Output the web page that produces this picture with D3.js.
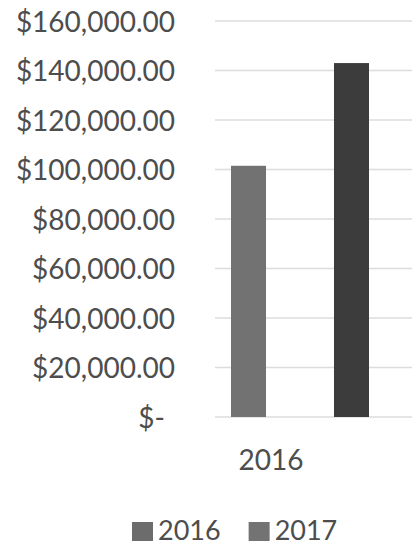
<!DOCTYPE html>
<html>
<head>
<meta charset="utf-8">
<script src="https://cdn.jsdelivr.net/npm/d3@7"></script>
<style>
  html, body { margin: 0; padding: 0; background: #fff; }
  svg { display: block; }
  text { font-family: Lato, "Open Sans", sans-serif; fill: #4d4d4d; }
</style>
</head>
<body>
<svg id="chart" width="412" height="546"></svg>
<script>
// Revenue by year
const categories = ["2016"];
const seriesNames = ["2016", "2017"];
const series2016 = [101500];
const series2017 = [143000];
const tickValues = [0, 20000, 40000, 60000, 80000, 100000, 120000, 140000, 160000];
const tickLabels = ["$-", "$20,000.00", "$40,000.00", "$60,000.00", "$80,000.00",
                    "$100,000.00", "$120,000.00", "$140,000.00", "$160,000.00"];

const colors = { "2016": "#727272", "2017": "#3c3c3c" };
const legendColors = { "2016": "#6c6c6c", "2017": "#737373" };

const svg = d3.select("#chart");
const plot = { left: 215, right: 412, top: 21, bottom: 417 };

const y = d3.scaleLinear().domain([0, 160000]).range([plot.bottom, plot.top]);
const x0 = d3.scaleBand().domain(categories).range([215, 385]);
const x1 = d3.scaleBand().domain(seriesNames).range([16, 154]).paddingInner(0.66).paddingOuter(0);

// gridlines
svg.append("g")
  .selectAll("line")
  .data(tickValues)
  .join("line")
  .attr("x1", plot.left).attr("x2", plot.right)
  .attr("y1", d => y(d)).attr("y2", d => y(d))
  .attr("stroke", "#dcdcdc").attr("stroke-width", 1.5);

// y-axis labels
const yAxis = d3.axisLeft(y)
  .tickValues(tickValues)
  .tickSize(0)
  .tickPadding(0)
  .tickFormat((d, i) => tickLabels[i]);
const gy = svg.append("g").attr("transform", "translate(175,0)").call(yAxis);
gy.select(".domain").remove();
gy.selectAll("text")
  .attr("font-size", 28)
  .attr("font-family", "Lato, 'Open Sans', sans-serif")
  .attr("fill", "#4d4d4d")
  .attr("dy", "0.36em")
  .attr("dx", d => d === 0 ? -10 : 0);

// bars
const rows = categories.map((c, i) => ({ cat: c, values: [
  { key: "2016", value: series2016[i] },
  { key: "2017", value: series2017[i] }
]}));

svg.append("g")
  .selectAll("g")
  .data(rows)
  .join("g")
  .attr("transform", d => `translate(${x0(d.cat)},0)`)
  .selectAll("rect")
  .data(d => d.values)
  .join("rect")
  .attr("x", d => x1(d.key))
  .attr("width", x1.bandwidth())
  .attr("y", d => y(d.value))
  .attr("height", d => y(0) - y(d.value))
  .attr("fill", d => colors[d.key]);

// category label
svg.append("g")
  .selectAll("text")
  .data(categories)
  .join("text")
  .attr("x", d => x0(d) + x0.bandwidth() / 2 - 29)
  .attr("y", 470)
  .attr("text-anchor", "middle")
  .attr("font-size", 28)
  .text(d => d);

// legend
const legend = svg.append("g").attr("transform", "translate(132,0)");
let lx = 0;
seriesNames.forEach(name => {
  const item = legend.append("g").attr("transform", `translate(${lx},0)`);
  item.append("rect")
    .attr("x", 0).attr("y", 522)
    .attr("width", 21).attr("height", 19)
    .attr("fill", legendColors[name]);
  const t = item.append("text")
    .attr("x", 26).attr("y", 540)
    .attr("font-size", 27)
    .text(name);
  lx += 26 + t.node().getComputedTextLength() + 28;
});
</script>
</body>
</html>
